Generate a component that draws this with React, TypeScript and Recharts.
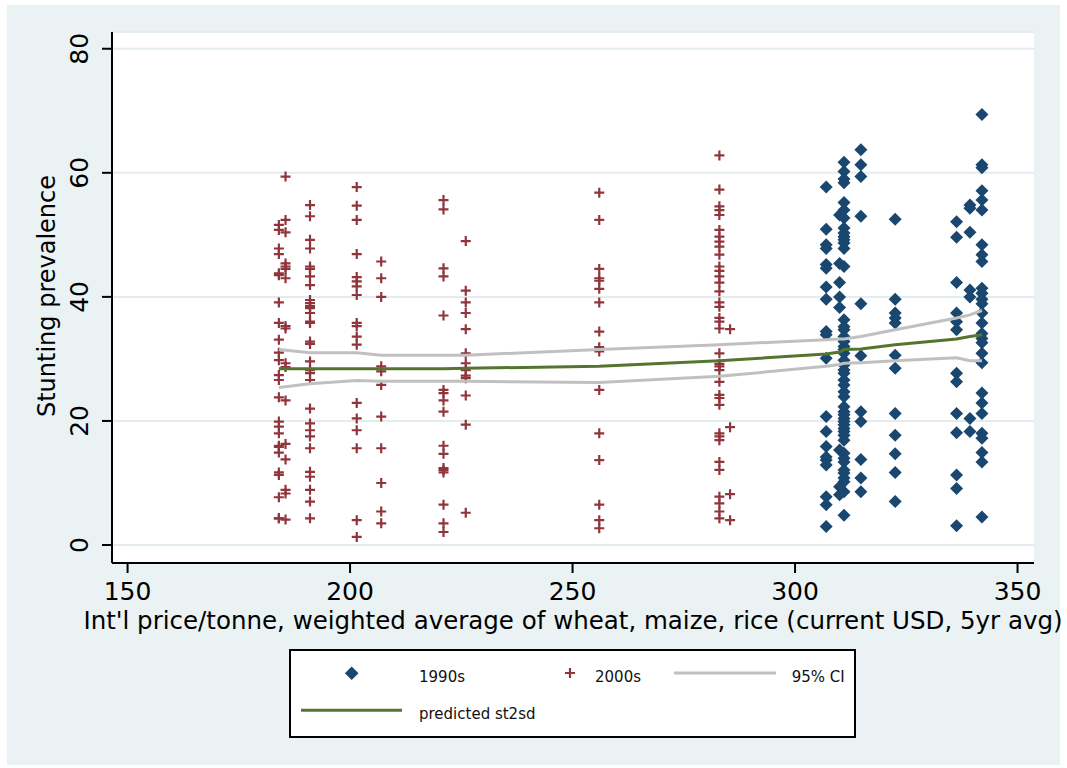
import { ScatterChart, Scatter, XAxis, YAxis, CartesianGrid } from 'recharts';

const FONT = '"DejaVu Sans", Verdana, sans-serif';
const NAVY = '#1a476f';
const MAROON = '#90353b';
const GREEN = '#55752f';
const CI_GRAY = '#c0c0c0';
const BG = '#eaf2f3';

// price columns (x) and stunting values per column
const cols1990 = [307, 310, 311, 314.8, 322.5, 336.3, 339.3, 342];
const stunting1990 = [
  [57.7, 50.9, 48.4, 47.8, 45.2, 44.6, 41.6, 39.6, 34.4, 33.9, 30.1, 20.7, 18.3, 15.9, 14.2, 13.7, 12.9, 7.8, 6.5, 3.0],
  [53.2, 45.4, 42.3, 40.0, 38.3, 15.3, 9.4, 8.1],
  [61.7, 60.2, 59.0, 58.4, 55.2, 54.0, 52.7, 51.1, 50.3, 49.7, 49.2, 48.7, 47.8, 44.9, 36.3, 35.2, 34.7, 33.6, 32.8, 32.0,
    31.5, 30.9, 29.8, 29.0, 28.2, 27.7, 26.6, 25.8, 24.7, 23.9, 22.3, 21.5, 21.0, 20.4, 19.9, 19.4, 18.8, 18.3, 17.7, 16.9,
    14.8, 14.0, 13.4, 12.1, 11.6, 10.8, 10.2, 8.6, 4.8],
  [63.7, 61.3, 59.4, 53.0, 38.9, 30.5, 21.5, 19.9, 13.8, 10.8, 8.6],
  [52.5, 39.6, 37.4, 36.6, 35.8, 30.6, 28.5, 21.2, 17.7, 14.7, 11.7, 7.0],
  [52.1, 49.6, 42.3, 37.4, 36.0, 34.7, 27.7, 26.3, 21.2, 18.1, 11.3, 9.1, 3.1],
  [54.8, 54.3, 50.4, 41.1, 40.0, 20.4, 18.3],
  [69.4, 61.3, 60.8, 57.1, 55.6, 54.0, 48.4, 46.8, 45.7, 41.4, 40.6, 39.6, 38.9, 37.4, 35.8, 34.1, 33.3, 32.6, 30.9, 29.4,
    24.5, 22.9, 21.2, 18.0, 17.2, 14.9, 13.4, 4.5],
];

const cols2000 = [184, 185.5, 191, 201.5, 207, 221, 226, 256, 283, 285.4];
const stunting2000 = [
  [51.6, 50.8, 47.8, 46.9, 43.8, 43.5, 39.1, 35.8, 33.1, 31.0, 29.8, 27.4, 26.6, 23.8, 19.9, 19.1, 18.0, 16.0, 15.8, 14.9,
    11.7, 11.3, 7.7, 4.3, 4.3],
  [59.4, 52.4, 50.4, 45.4, 44.9, 44.5, 43.0, 35.3, 34.9, 29.3, 28.7, 23.3, 16.3, 13.8, 8.9, 8.3, 4.1],
  [54.8, 53.0, 49.2, 47.8, 44.9, 44.5, 43.3, 41.9, 39.5, 39.0, 38.5, 38.2, 37.4, 36.0, 35.8, 32.8, 32.4, 29.6, 28.2, 27.7,
    26.6, 22.0, 19.6, 18.5, 17.5, 15.6, 11.8, 11.0, 8.9, 7.0, 4.3],
  [57.7, 54.7, 52.4, 46.9, 43.2, 42.5, 41.7, 40.3, 35.8, 35.3, 33.6, 32.3, 22.9, 20.4, 18.5, 15.6, 4.0, 1.3],
  [45.7, 43.0, 40.0, 28.8, 28.0, 25.8, 20.7, 15.6, 10.0, 5.4, 3.5],
  [55.6, 54.1, 44.6, 43.3, 37.0, 25.0, 24.5, 23.3, 21.5, 16.0, 14.7, 12.4, 12.1, 11.7, 6.5, 3.5, 2.1],
  [49.0, 41.0, 39.1, 37.4, 34.8, 30.9, 29.3, 28.2, 27.3, 26.9, 24.1, 19.4, 5.2],
  [56.8, 52.4, 44.5, 43.0, 42.6, 41.3, 39.1, 34.4, 31.9, 31.2, 25.0, 18.0, 13.7, 6.5, 4.0, 2.7],
  [62.8, 57.3, 54.6, 54.0, 53.2, 50.8, 49.7, 48.9, 48.1, 46.8, 44.9, 44.2, 43.3, 42.3, 40.9, 39.1, 38.4, 36.6, 36.0, 34.9,
    30.9, 29.2, 28.8, 28.2, 26.3, 24.2, 23.7, 22.6, 18.0, 17.5, 16.9, 13.4, 12.1, 7.8, 6.7, 5.4, 4.3],
  [34.8, 19.0, 8.2, 4.0],
];

// fitted line and confidence band
const fitPrice = [184, 191, 201.5, 207, 221, 226, 256, 283, 307, 310, 311, 314.8, 322.5, 336.3, 339.3, 342];
const fitPredicted = [28.4, 28.4, 28.4, 28.4, 28.4, 28.5, 28.8, 29.7, 30.8, 31.1, 31.5, 31.6, 32.3, 33.2, 33.6, 33.9];
const fitUpper = [31.5, 31.0, 31.0, 30.6, 30.6, 30.6, 31.5, 32.3, 33.1, 33.2, 33.2, 33.6, 34.7, 36.6, 37.1, 37.8];
const fitLower = [25.4, 26.0, 26.5, 26.4, 26.4, 26.4, 26.2, 27.2, 28.8, 29.1, 29.3, 29.4, 29.7, 30.2, 29.7, 29.7];

const xTicks = [150, 200, 250, 300, 350];
const yTicks = [0, 20, 40, 60, 80];

const toPoints = (cols: number[], vals: number[][]) =>
  cols.flatMap((x, i) => vals[i].map((y) => ({ x, y })));
const toLine = (ys: number[]) => fitPrice.map((x, i) => ({ x, y: ys[i] }));

const data1990 = toPoints(cols1990, stunting1990);
const data2000 = toPoints(cols2000, stunting2000);

const Diamond = (props: any) => {
  const { cx, cy } = props;
  const r = 6.5;
  return <polygon points={`${cx},${cy - r} ${cx + r},${cy} ${cx},${cy + r} ${cx - r},${cy}`} fill={NAVY} />;
};

const Plus = (props: any) => {
  const { cx, cy } = props;
  const r = 5;
  return <path d={`M${cx - r},${cy}H${cx + r}M${cx},${cy - r}V${cy + r}`} stroke={MAROON} strokeWidth={2.2} fill="none" />;
};

const NoDot = () => <g />;

const XTick = (props: any) => (
  <text x={props.x} y={props.y + 27} textAnchor="middle" fontSize={25} fill="#000" fontFamily={FONT}>
    {props.payload.value}
  </text>
);

const YTick = (props: any) => {
  const x = props.x - 14;
  return (
    <text x={x} y={props.y} transform={`rotate(-90, ${x}, ${props.y})`} textAnchor="middle" fontSize={25} fill="#000" fontFamily={FONT}>
      {props.payload.value}
    </text>
  );
};

export default function App() {
  return (
    <div style={{ position: 'absolute', left: 0, top: 0, width: 1067, height: 768, background: '#fff', fontFamily: FONT }}>
      <div style={{ position: 'absolute', left: 7, top: 5, width: 1053, height: 760, background: BG }} />
      <div style={{ position: 'absolute', left: 0, top: 0 }}>
        <ScatterChart width={1067} height={768} margin={{ top: 32, right: 33, bottom: 155, left: 0 }}>
          <CartesianGrid vertical={false} stroke="#e3ecef" strokeWidth={2} fill="#fff" />
          <XAxis
            type="number"
            dataKey="x"
            domain={[146.5, 353.7]}
            ticks={xTicks}
            allowDataOverflow
            height={50}
            tickSize={10}
            tickMargin={0}
            axisLine={{ stroke: '#000', strokeWidth: 2 }}
            tickLine={{ stroke: '#000', strokeWidth: 2 }}
            tick={<XTick />}
            label={(p: any) => {
              const vb = p.viewBox;
              return (
                <text x={vb.x + vb.width / 2} y={629} textAnchor="middle" fontSize={24.5} fill="#000" fontFamily={FONT}>
                  Int'l price/tonne, weighted average of wheat, maize, rice (current USD, 5yr avg)
                </text>
              );
            }}
          />
          <YAxis
            type="number"
            dataKey="y"
            domain={[-2.9, 82.7]}
            ticks={yTicks}
            allowDataOverflow
            width={112}
            tickSize={10}
            tickMargin={0}
            axisLine={{ stroke: '#000', strokeWidth: 2 }}
            tickLine={{ stroke: '#000', strokeWidth: 2 }}
            tick={<YTick />}
            label={() => (
              <text x={55} y={296} transform="rotate(-90, 55, 296)" textAnchor="middle" fontSize={24} fill="#000" fontFamily={FONT}>
                Stunting prevalence
              </text>
            )}
          />
          <Scatter name="1990s" data={data1990} shape={<Diamond />} isAnimationActive={false} />
          <Scatter name="2000s" data={data2000} shape={<Plus />} isAnimationActive={false} />
          <Scatter name="95% CI upper" data={toLine(fitUpper)} shape={<NoDot />} line={{ stroke: CI_GRAY, strokeWidth: 3 }} isAnimationActive={false} />
          <Scatter name="95% CI lower" data={toLine(fitLower)} shape={<NoDot />} line={{ stroke: CI_GRAY, strokeWidth: 3 }} isAnimationActive={false} />
          <Scatter name="predicted st2sd" data={toLine(fitPredicted)} shape={<NoDot />} line={{ stroke: GREEN, strokeWidth: 3 }} isAnimationActive={false} />
        </ScatterChart>
      </div>
      <svg style={{ position: 'absolute', left: 289, top: 649 }} width={567} height={89} fontFamily={FONT} fontSize={15}>
        <rect x={1} y={1} width={565} height={87} fill="#fff" stroke="#000" strokeWidth={2} />
        <polygon points="62.7,17.5 69.5,24.3 62.7,31.1 55.9,24.3" fill={NAVY} />
        <path d="M276,24H286M281,19V29" stroke={MAROON} strokeWidth={2.2} />
        <line x1={385} y1={24} x2={487} y2={24} stroke={CI_GRAY} strokeWidth={3} />
        <line x1={12} y1={61.3} x2={113} y2={61.3} stroke={GREEN} strokeWidth={3} />
        <text x={130} y={32.7} fill="#111">1990s</text>
        <text x={306} y={32.7} fill="#111">2000s</text>
        <text x={502.7} y={32.7} fill="#111">95% CI</text>
        <text x={130} y={70} fill="#111">predicted st2sd</text>
      </svg>
    </div>
  );
}
